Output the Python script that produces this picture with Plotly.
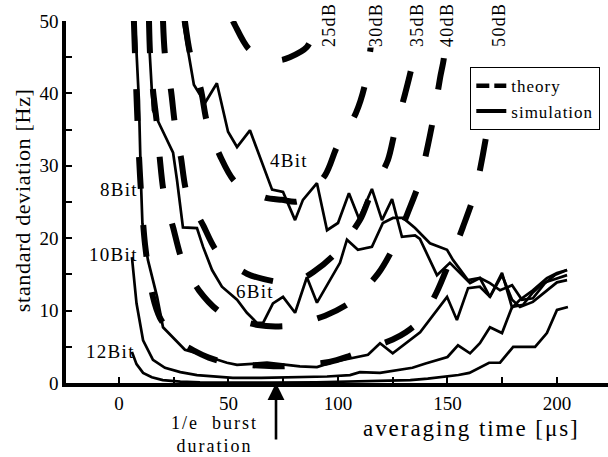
import plotly.graph_objects as go

# ---------------- data ----------------
# averaging time [us] / standard deviation [Hz]
theory_25dB_t = [52.0, 53.0, 59.8, 73.1, 78.0, 85.8, 90.9]
theory_25dB_s = [50.0, 49.4, 46.0, 44.6, 45.0, 46.4, 50.0]

theory_30dB_t = [30.1, 32.4, 37.4, 40.2, 46.1, 53.0, 66.7, 74.4, 81.7, 94.1, 99.5, 108.2, 112.3, 116.4]
theory_30dB_s = [50.0, 45.6, 40.5, 36.0, 31.4, 27.8, 25.6, 25.3, 25.1, 28.7, 32.6, 37.3, 41.2, 50.0]

theory_35dB_t = [20.1, 21.0, 23.7, 25.6, 28.3, 31.0, 38.4, 44.7, 58.4, 71.7, 79.5, 88.6, 98.2,
                 110.0, 114.6, 122.8, 126.0, 130.6, 133.8, 136.5]
theory_35dB_s = [50.0, 45.3, 40.5, 35.6, 31.1, 26.2, 21.8, 18.2, 15.1, 14.0, 13.8, 15.3, 17.7,
                 22.5, 25.8, 30.8, 34.8, 39.9, 43.9, 50.0]

theory_40dB_t = [13.7, 14.2, 15.5, 17.4, 18.7, 20.5, 24.7, 28.8, 36.5, 46.6, 63.5, 77.2, 94.1,
                 105.9, 118.3, 125.6, 132.0, 137.0, 141.1, 143.8, 146.6, 148.4, 149.3]
theory_40dB_s = [50.0, 45.3, 40.5, 35.6, 30.8, 26.2, 21.5, 17.0, 12.8, 9.7, 8.0, 7.9, 9.3,
                 11.2, 15.1, 18.9, 23.6, 27.6, 32.9, 37.0, 42.1, 45.0, 50.0]

theory_50dB_t = [6.8, 8.2, 9.6, 11.9, 15.5, 18.7, 22.4, 28.0, 34.0, 41.0, 48.0, 56.0, 64.0, 72.0,
                 80.0, 88.0, 96.0, 104.0, 111.0, 118.0, 125.0, 131.0, 138.0, 145.0, 151.0,
                 157.0, 162.6, 168.5, 172.6, 174.0]
theory_50dB_s = [50.0, 38.0, 28.6, 19.1, 11.9, 9.0, 7.4, 5.6, 4.5, 3.5, 2.9, 2.6, 2.4, 2.3,
                 2.4, 2.6, 2.9, 3.6, 4.4, 5.2, 6.0, 7.0, 8.8, 12.5, 16.8,
                 21.5, 26.4, 35.6, 45.3, 50.0]

sim_4bit_t = [29.2, 34.2, 39.3, 44.7, 49.8, 53.9, 59.8, 69.9, 74.9, 80.4, 84.0, 90.4, 95.0, 100.0,
              105.0, 109.6, 115.5, 120.1, 124.7, 129.2, 135.2, 137.4, 145.2, 151.1, 160.3,
              164.8, 169.4, 174.9, 179.5, 183.1, 189.0, 195.4, 200.0, 204.6]
sim_4bit_s = [50.0, 41.2, 38.7, 41.4, 34.7, 32.6, 34.9, 26.7, 26.4, 22.5, 25.3, 27.6, 21.1, 22.1,
              26.2, 22.7, 26.8, 22.5, 25.4, 20.2, 20.4, 19.9, 14.9, 16.6, 13.8,
              14.5, 11.9, 14.9, 11.5, 10.5, 11.2, 12.8, 13.9, 14.2]

sim_6bit_t = [13.2, 14.2, 15.5, 18.7, 24.7, 26.5, 29.2, 35.6, 38.4, 42.5, 47.0, 53.9, 58.4, 63.0,
              65.8, 70.3, 74.9, 80.4, 85.8, 90.4, 100.9, 104.1, 109.1, 115.5, 120.5, 125.1,
              129.7, 135.2, 142.0, 149.8, 152.5, 159.4, 164.8, 169.4, 174.0, 179.5, 184.0,
              189.0, 194.5, 199.0, 204.6]
sim_6bit_s = [50.0, 44.6, 37.7, 35.6, 31.8, 28.0, 21.5, 21.4, 18.8, 15.6, 13.3, 11.5, 9.7, 8.3,
              8.3, 11.0, 11.9, 9.7, 14.6, 11.1, 16.6, 19.8, 18.4, 18.8, 22.1, 22.8,
              22.8, 21.4, 19.3, 18.4, 17.0, 14.2, 14.5, 13.8, 12.8, 13.5, 11.5,
              11.7, 13.8, 14.9, 15.6]

sim_8bit_t = [7.3, 8.2, 9.1, 10.0, 10.7, 13.2, 17.4, 20.1, 24.2, 30.1, 35.6, 49.3, 53.9, 67.6,
              82.6, 90.4, 97.7, 113.7, 119.2, 125.0, 137.5, 149.8, 154.3, 159.4, 164.8,
              169.4, 174.9, 179.5, 183.1, 189.0, 195.4, 200.0, 204.6]
sim_8bit_s = [50.0, 45.0, 39.0, 28.0, 22.0, 17.0, 11.9, 7.7, 6.4, 4.6, 4.1, 2.8, 2.5, 2.8,
              2.3, 2.2, 2.9, 3.9, 5.5, 4.1, 7.0, 11.9, 8.7, 13.1, 13.3,
              11.9, 15.2, 10.4, 11.5, 12.8, 14.5, 15.2, 15.6]

sim_10bit_t = [5.9, 8.0, 11.0, 15.5, 21.0, 28.0, 35.6, 45.0, 52.0, 65.0, 82.6, 95.0, 105.5,
               110.0, 119.2, 134.0, 140.0, 145.0, 150.0, 154.8, 160.3, 164.8, 169.4, 174.9,
               179.5, 184.5, 189.0, 193.6, 200.0, 204.6]
sim_10bit_s = [17.4, 11.0, 5.9, 3.2, 2.1, 1.5, 1.1, 0.9, 0.7, 0.7, 0.8, 0.9, 1.1,
               1.5, 1.4, 2.1, 2.7, 3.1, 3.6, 5.2, 4.1, 5.5, 7.7, 6.9,
               10.5, 10.8, 12.5, 13.8, 14.5, 14.9]

sim_12bit_t = [5.9, 8.0, 11.0, 15.0, 20.0, 28.0, 37.0, 50.0, 70.0, 90.0, 110.0, 125.0, 133.0,
               141.0, 148.0, 155.0, 160.0, 164.8, 169.0, 174.0, 180.0, 185.0, 190.0, 195.4,
               200.0, 205.0]
sim_12bit_s = [4.3, 2.6, 1.4, 0.8, 0.4, 0.2, 0.1, 0.05, 0.05, 0.1, 0.2, 0.3, 0.4,
               0.6, 0.8, 1.1, 1.4, 2.1, 2.8, 2.8, 5.0, 5.0, 5.0, 6.9,
               10.1, 10.5]

snr_labels = ["25dB", "30dB", "35dB", "40dB", "50dB"]
snr_label_t = [95.9, 117.4, 136.1, 149.8, 173.5]

bit_labels = ["4Bit", "6Bit", "8Bit", "10Bit", "12Bit"]
bit_label_t = [77.6, 62.1, 0.0, -2.7, -4.1]
bit_label_s = [30.7, 12.6, 26.7, 17.7, 4.4]

burst_duration = 71.7  # 1/e burst duration [us]

x_tick_vals = [0, 25, 50, 75, 100, 125, 150, 175, 200]
x_tick_text = ["0", "", "50", "", "100", "", "150", "", "200"]
y_tick_vals = [0, 5, 10, 15, 20, 25, 30, 35, 40, 45, 50]
y_tick_text = ["0", "", "10", "", "20", "", "30", "", "40", "", "50"]

# ---------------- styling ----------------
SERIF = "Liberation Serif, Times New Roman, serif"
BLACK = "#000000"
DASH = "32px,36px"


def spaced(text, px):
    return f'<span style="letter-spacing:{px}px">{text}</span>'


fig = go.Figure()

theory = [
    (theory_25dB_t, theory_25dB_s),
    (theory_30dB_t, theory_30dB_s),
    (theory_35dB_t, theory_35dB_s),
    (theory_40dB_t, theory_40dB_s),
    (theory_50dB_t, theory_50dB_s),
]
for t, s in theory:
    fig.add_trace(go.Scatter(
        x=t, y=s, mode="lines", showlegend=False, hoverinfo="skip",
        line=dict(color=BLACK, width=6, dash=DASH, shape="spline", smoothing=0.8),
    ))

simulation = [
    (sim_4bit_t, sim_4bit_s),
    (sim_6bit_t, sim_6bit_s),
    (sim_8bit_t, sim_8bit_s),
    (sim_10bit_t, sim_10bit_s),
    (sim_12bit_t, sim_12bit_s),
]
for t, s in simulation:
    fig.add_trace(go.Scatter(
        x=t, y=s, mode="lines", showlegend=False, hoverinfo="skip",
        line=dict(color=BLACK, width=2.7),
    ))

# legend entries
fig.add_trace(go.Scatter(
    x=[None], y=[None], mode="lines", name=spaced("theory", 1),
    line=dict(color=BLACK, width=4.5, dash="13px,5px"),
))
fig.add_trace(go.Scatter(
    x=[None], y=[None], mode="lines", name=spaced("simulation", 1),
    line=dict(color=BLACK, width=4),
))

annotations = []
for lab, t in zip(snr_labels, snr_label_t):
    annotations.append(dict(
        x=t, y=0.989, xref="x", yref="paper", text=spaced(lab, 1.3),
        textangle=-90, showarrow=False, xanchor="center", yanchor="middle",
        bgcolor="white", borderpad=0,
        font=dict(family=SERIF, size=18, color=BLACK),
    ))
for lab, t, s in zip(bit_labels, bit_label_t, bit_label_s):
    annotations.append(dict(
        x=t, y=s, xref="x", yref="y", text=spaced(lab, 1.3),
        showarrow=False, xanchor="center", yanchor="middle",
        font=dict(family=SERIF, size=19, color=BLACK),
    ))

# burst-duration arrow
annotations.append(dict(
    x=burst_duration, y=0, xref="x", yref="y", text="", showarrow=True,
    ax=0, ay=58, axref="pixel", ayref="pixel",
    arrowhead=2, arrowsize=1.3, arrowwidth=2.6, arrowcolor=BLACK, standoff=0,
))
annotations.append(dict(
    x=43.5, y=-0.141, xref="x", yref="paper",
    text=spaced("1/e  burst", 2) + "<br>" + spaced("duration", 2),
    showarrow=False, xanchor="center", yanchor="middle",
    font=dict(family=SERIF, size=18, color=BLACK),
))

# axis titles
annotations.append(dict(
    x=-0.0812, y=0.505, xref="paper", yref="paper",
    text=spaced("standard deviation [Hz]", 0.7), textangle=-90,
    showarrow=False, xanchor="center", yanchor="middle",
    font=dict(family=SERIF, size=22, color=BLACK),
))
annotations.append(dict(
    x=0.749, y=-0.127, xref="paper", yref="paper",
    text=spaced("averaging time [μs]", 1.95),
    showarrow=False, xanchor="center", yanchor="middle",
    font=dict(family=SERIF, size=23, color=BLACK),
))

axis_common = dict(
    showline=True, linecolor=BLACK, linewidth=3.5, ticks="inside", ticklen=6,
    tickwidth=1.5, tickcolor=BLACK, showgrid=False, zeroline=False,
    tickfont=dict(family=SERIF, size=19, color=BLACK), tickmode="array",
)

fig.update_layout(
    width=608, height=457,
    margin=dict(l=66, r=0, t=21, b=74),
    paper_bgcolor="white", plot_bgcolor="white",
    font=dict(family=SERIF, color=BLACK),
    xaxis=dict(range=[-24.2, 223.3], tickvals=x_tick_vals, ticktext=x_tick_text, **axis_common),
    yaxis=dict(range=[0, 50], tickvals=y_tick_vals, ticktext=y_tick_text, **axis_common),
    legend=dict(
        x=0.7454, y=0.873, xanchor="left", yanchor="top",
        bordercolor=BLACK, borderwidth=1.3, bgcolor="white",
        font=dict(family=SERIF, size=17, color=BLACK),
        itemwidth=30, tracegroupgap=0,
    ),
    annotations=annotations,
    hovermode=False,
)

fig.write_html("out.html")
